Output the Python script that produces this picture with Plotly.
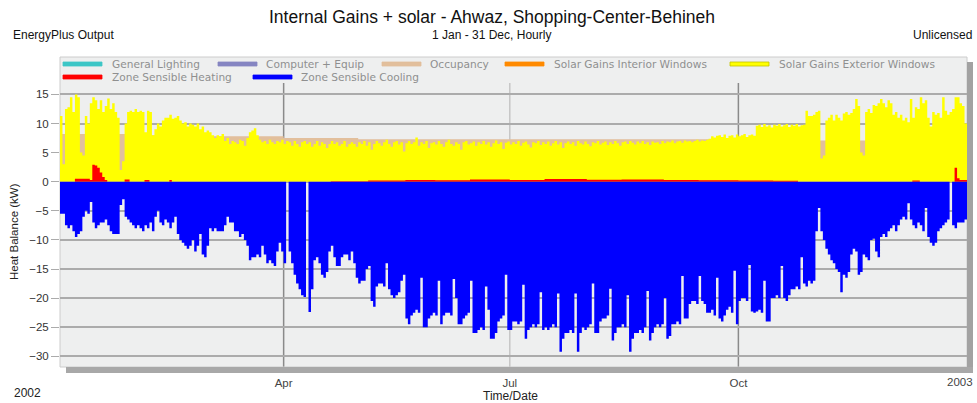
import plotly.graph_objects as go
import pandas as pd

# ---------------- data ----------------
# daily minimum of Zone Sensible Cooling (kW), 1 Jan .. 31 Dec 2002
cooling_daily_min = [
    -5.5, -5.5, -7.5, -8, -7.5, -8.5, -9.5, -9, -8.5, -6,
    -5, -5.5, -3.5, -7, -8, -7.5, -7, -7, -6.5, -7.5,
    -8.5, -9, -9, -9, -4, -3, -6, -6.5, -7, -7.5,
    -8, -7.5, -8, -8.5, -7.5, -8, -7, -8.5, -6, -5,
    -7, -7.5, -6.5, -7, -8, -7, -6, -9, -10, -10.5,
    -11, -11.5, -11, -10, -12, -11, -9, -12.5, -13, -11,
    -8, -8.5, -8, -8.5, -8.5, -8.5, -7.5, -6, -7, -7,
    -8.5, -8.5, -9.5, -9, -10, -11, -13.5, -13, -13, -12.5,
    -13, -11, -12.5, -14, -13.5, -14, -14.5, -12, -10.5, -12,
    -14, 0, -12, -14, -16, -17.5, -18.5, -19.5, -19.8, 0,
    -22.4, -18.5, -13.5, -13, -14, -16, -16.5, -15.5, -12, -11,
    -13, -14.5, -14.5, -13, -12.5, -12.5, -13.5, -12, -14, -16.5,
    -17.5, -17, -17, -15, -14.5, -20.5, -21.5, -18, -17.5, -17.5,
    -18, -14, -18.5, -19.5, -20, -19.5, -19, -17, -16, -23.5,
    -24.5, -23, -22.5, -22, -22.5, -16.5, -25, -25, -23.5, -23,
    -22.5, -23, -17, -24.5, -23, -22.5, -22.5, -23, -16.7, -20,
    -24.5, -24.5, -23.5, -23, -22.5, -17, -26, -26, -25.5, -25,
    -25.5, -18, -22, -27, -27, -26, -24, -23.5, -23, -16,
    -25.5, -25.5, -24, -24, -24.5, -24, -17.7, -27, -25.5, -25,
    -24.5, -25, -24.5, -19, -25.5, -25, -25.5, -25, -24.5, -25,
    -19.2, -29.2, -27, -26, -26, -25.5, -26, -19.2, -29.2, -26,
    -25, -25.5, -25, -24.5, -17.5, -26, -26, -24, -23.5, -23.5,
    -23, -18.4, -27.3, -26, -25, -25, -24.5, -25, -19.5, -29.2,
    -27, -26, -26, -25.5, -26, -25, -18.8, -27.3, -26, -25,
    -24.5, -25, -24.5, -20, -27, -26.5, -24.5, -24.5, -24, -24.5,
    -16.2, -23.5, -23.5, -21, -20.5, -20.5, -21, -16.2, -20.5, -21,
    -22.5, -22.5, -22, -23, -16.5, -23.5, -24, -23, -22, -21.5,
    -22.5, -15.3, -24.5, -20.5, -20, -20, -20.5, -14.3, -22.3, -22.5,
    -22.3, -22, -22.5, -17, -24, -24, -20, -20, -19.5, -20,
    -14.5, -20, -20.5, -19.5, -18.5, -18.5, -18, -18.5, -13, -17.5,
    -18, -17, -17.5, -17, -8.5, -4.5, -8.5, -10, -11.5, -12.5,
    -13.5, -14, -15, -15.5, -19, -16, -16.5, -15.5, -12.5, -11.5,
    -12, -16, -15.5, -12.5, -13, -13.5, -10, -9.8, -12, -13,
    -9.5, -9, -9.5, -8.5, -8, -7.5, -8.5, -7.5, -6.5, -6,
    -6.5, -3.7, -6.5, -7.5, -8, -7, -7.5, -8.5, -4.5, -9.5,
    -10.5, -11, -10.5, -8.5, -8, -7.5, -7, -6.5, 0, -7.5,
    -8, -7, -7, -7, -6.5,
]

# daily maximum of Solar Gains Exterior Windows (kW)
solar_ext_daily_max = [
    11.3, 3, 12.5, 12.8, 14.5, 12, 15, 14.5, 5, 4.5,
    11.3, 10, 13.5, 14.5, 14, 12.5, 14, 12, 13, 14.3,
    12.5, 13.5, 12, 11, 2, 3.5, 10, 12, 12.2, 12,
    12.5, 12, 12.2, 12, 8.5, 12.2, 12, 8, 9, 10,
    9.5, 10.5, 11, 11, 11.5, 10.8, 11, 11.3, 10.5, 10,
    10.2, 9.5, 10, 9.8, 9.5, 10, 9, 9.5, 8.5, 8.8,
    8.5, 8, 7.5, 8, 7.8, 8.2, 7, 7.5, 6.5, 7,
    6.8, 6.5, 7.2, 7, 6.2, 7.5, 8.5, 8.8, 9.2, 8,
    7.2, 6.8, 7, 6.5, 7.2, 6.8, 6.5, 7, 6.8, 7.2,
    6.5, 7, 6.8, 6.2, 7, 6.5, 6, 6.8, 7, 6.5,
    6.8, 6, 6.5, 7, 6.2, 6.8, 6.5, 5.8, 6.5, 7,
    6.5, 6.8, 6.2, 6.5, 7, 6, 6.5, 6.8, 6.5, 6,
    6.8, 6.5, 7, 6.2, 6.8, 5.5, 6.5, 7, 6.6, 6.2,
    6.8, 7.2, 6.5, 6, 6.8, 7, 6.4, 6.8, 5.2, 6.6,
    7, 6.5, 6.8, 7.6, 6.2, 6.8, 6.5, 7, 5.8, 6.6,
    6.8, 6.4, 7, 6.5, 6, 6.8, 7.2, 6.5, 6.2, 6.8,
    6.5, 5.5, 6.8, 7, 6.4, 6.6, 6.9, 6.2, 6.8, 6.5,
    7, 6.4, 6.8, 6, 6.6, 7.1, 6.5, 6.8, 5.6, 6.7,
    6.9, 6.4, 6.8, 6.5, 7, 6.2, 6.7, 6.9, 6.4, 5.9,
    6.8, 6.6, 7, 6.3, 6.8, 6.5, 6.9, 6.2, 6.6, 7,
    6.4, 6.8, 5.8, 6.6, 6.9, 6.5, 6.8, 6.2, 7, 6.6,
    6.4, 6.9, 6.5, 6.1, 6.8, 6.6, 7, 6.4, 6.7, 6.9,
    6.3, 6.8, 6.5, 7, 6.6, 6.2, 6.8, 6.9, 6.5, 7,
    6.7, 6.4, 6.9, 6.6, 7, 6.5, 6.8, 6.3, 6.9, 6.7,
    6.8, 6.5, 7, 6.6, 6.9, 6.8, 7.1, 6.6, 6.9, 7,
    6.7, 7.1, 6.9, 7.0, 6.8, 7.0, 7.2, 6.9, 7.1, 7.0,
    7.2, 7.4, 7.8, 7.6, 7.9, 8.0, 7.7, 8.1, 7.5, 7.9,
    8.0, 7.6, 8.1, 7.8, 8.0, 8.2, 7.7, 8.0, 8.1, 7.9,
    9.6, 9.8, 9.4, 9.9, 9.5, 9.7, 9.3, 9.8, 9.6, 9.9,
    9.5, 9.7, 9.9, 9.4, 9.8, 9.6, 9.9, 9.5, 9.7, 9.8,
    12.2, 11.3, 11.3, 11.5, 12, 12.2, 4.0, 4.5, 10.5, 11,
    11.5, 10.5, 11.5, 11, 10.5, 11.7, 12, 11.5, 11.8, 12.5,
    14.2, 13, 5, 4.5, 12, 12.5, 11.8, 13.2, 13, 13.5,
    14.2, 13.5, 12.8, 14, 13.5, 11.5, 12, 11, 11.5, 10.5,
    11, 10.2, 14.2, 11, 12.8, 12.5, 14.5, 13.5, 14, 11,
    9.5, 12, 11.5, 11.8, 11, 14.5, 12.2, 11.5, 12, 12.5,
    14.5, 14.5, 13.5, 13, 10,
]

# Occupancy: monthly peak (kW)
occupancy_month_starts = ["2002-01-01", "2002-02-01", "2002-03-01", "2002-04-01",
                          "2002-05-01", "2002-06-01", "2002-07-01", "2002-08-01",
                          "2002-09-01", "2002-10-01", "2002-11-01", "2002-12-01"]
occupancy_monthly_max = [8.2, 8.0, 7.8, 7.5, 7.3, 7.3, 7.3, 7.3, 7.3, 7.2, 7.1, 7.1]

# Zone Sensible Heating: value holds from each date to the next one (kW)
heating_change_dates = ["2002-01-01", "2002-01-07", "2002-01-13", "2002-01-14", "2002-01-15",
                        "2002-01-16", "2002-01-17", "2002-01-18", "2002-01-19", "2002-01-20",
                        "2002-01-27", "2002-01-29", "2002-02-04", "2002-02-06", "2002-02-14",
                        "2002-02-15", "2002-04-20", "2002-05-05", "2002-05-20", "2002-06-01",
                        "2002-06-15", "2002-07-01", "2002-07-15", "2002-08-01", "2002-08-15",
                        "2002-09-01", "2002-09-15", "2002-10-01", "2002-10-15", "2002-10-25",
                        "2002-12-10", "2002-12-13", "2002-12-27", "2002-12-28", "2002-12-29"]
heating_values = [0, 0.5, 0.3, 2.9, 2.8, 2.4, 1.6, 0.8, 0.3, 0,
                  0.4, 0, 0.3, 0, 0.3, 0, 0.1, 0.2, 0.3, 0.25,
                  0.4, 0.3, 0.45, 0.35, 0.4, 0.3, 0.25, 0.2, 0.15, 0,
                  0.2, 0, 2.4, 0.6, 0.3]

series_names = ["General Lighting", "Computer + Equip", "Occupancy",
                "Solar Gains Interior Windows", "Solar Gains Exterior Windows",
                "Zone Sensible Heating", "Zone Sensible Cooling"]
series_colors = ["#3cc6c6", "#8585c2", "#e2bf9c", "#ff8a00", "#ffff00", "#ff0000", "#0000ff"]

month_ticks = ["2002-04-01", "2002-07-01", "2002-10-01", "2003-01-01"]
month_labels = ["Apr", "Jul", "Oct", ""]
year_labels = ["2002", "2003"]
y_ticks = [-30, -25, -20, -15, -10, -5, 0, 5, 10, 15]

# ---------------- figure ----------------
YEAR_END = "2003-01-01"
day_edges = pd.date_range("2002-01-01", periods=len(cooling_daily_min) + 1, freq="D")

def step_area(x, y, color):
    return go.Scatter(x=list(x), y=list(y) + [y[-1]], mode="lines",
                      line=dict(width=0, shape="hv"), fill="tozeroy",
                      fillcolor=color, hoverinfo="skip", showlegend=False)

fig = go.Figure()
fig.add_trace(step_area(occupancy_month_starts + [YEAR_END], occupancy_monthly_max, series_colors[2]))
fig.add_trace(step_area(day_edges, solar_ext_daily_max, series_colors[4]))
fig.add_trace(step_area(heating_change_dates + [YEAR_END], heating_values, series_colors[5]))
fig.add_trace(step_area(day_edges, cooling_daily_min, series_colors[6]))

# geometry of the plot area in pixels
L, R, T, B = 60, 967, 57, 367
W, H = R - L, B - T
def px(xp):
    return (xp - L) / W
def py(yp):
    return (B - yp) / H

shapes = []
# vertical month lines
for d, c in zip(month_ticks[:3], ["#8a8a8a", "#c6c6c6", "#8a8a8a"]):
    shapes.append(dict(type="line", xref="x", yref="paper", x0=d, x1=d, y0=0, y1=py(83),
                       line=dict(color=c, width=1.5), layer="below"))
# frame and drop shadow
shapes.append(dict(type="rect", xref="paper", yref="paper", x0=0, x1=1, y0=0, y1=1,
                   line=dict(color="#cccccc", width=1), layer="below"))
shapes.append(dict(type="rect", xref="paper", yref="paper", x0=1, x1=px(973),
                   y0=py(373), y1=py(62), fillcolor="#a2a2a2", line=dict(width=0)))
shapes.append(dict(type="rect", xref="paper", yref="paper", x0=px(66), x1=px(973),
                   y0=py(373), y1=0, fillcolor="#a8a8a8", line=dict(width=0)))

# custom legend
legend_pos = [(63, 110, 64), (218, 264, 64), (382, 428, 64), (505, 552, 64), (730, 777, 64),
              (63, 110, 77), (253, 299, 77)]
annotations = []
for name, col, (sx, tx, ry) in zip(series_names, series_colors, legend_pos):
    edge = "#c2c200" if col == "#ffff00" else col
    shapes.append(dict(type="rect", xref="paper", yref="paper", x0=px(sx), x1=px(sx + 39),
                       y0=py(ry + 2), y1=py(ry - 2), fillcolor=col,
                       line=dict(color=edge, width=0.8)))
    annotations.append(dict(xref="paper", yref="paper", x=px(tx), y=py(ry), text=name,
                            showarrow=False, xanchor="left", yanchor="middle",
                            font=dict(size=10.6, color="#8f8f8f",
                                      family="DejaVu Sans, Verdana, sans-serif")))

txt = [
    ("Internal Gains + solar - Ahwaz, Shopping-Center-Behineh", 492, 17, "center", 17.5, "#111111", 0),
    ("EnergyPlus Output", 11, 35, "left", 12, "#111111", 0),
    ("1 Jan - 31 Dec, Hourly", 491, 35, "center", 12, "#111111", 0),
    ("Unlicensed", 974, 35, "right", 12, "#111111", 0),
    ("Heat Balance (kW)", 14, 232, "center", 11.5, "#222222", -90),
    ("Time/Date", 510, 396, "center", 12, "#222222", 0),
    (year_labels[0], 27, 393, "center", 12, "#222222", 0),
    (year_labels[1], 975, 382, "right", 11.5, "#444444", 0),
]
for t, x, y, anc, size, col, ang in txt:
    annotations.append(dict(xref="paper", yref="paper", x=px(x), y=py(y), text=t,
                            showarrow=False, xanchor=anc, yanchor="middle", textangle=ang,
                            font=dict(size=size, color=col)))

fig.update_layout(
    width=977, height=403,
    margin=dict(l=L, r=977 - R, t=T, b=403 - B),
    paper_bgcolor="white", plot_bgcolor="#eeefef",
    font=dict(family="Liberation Sans, Arial, sans-serif", size=11, color="#333333"),
    shapes=shapes, annotations=annotations, showlegend=False,
)
fig.update_xaxes(type="date", range=["2002-01-01", YEAR_END], tickvals=month_ticks,
                 ticktext=month_labels, showgrid=False, zeroline=False, showline=False,
                 ticks="outside", ticklen=5, tickcolor="#8a8a8a",
                 tickfont=dict(size=11.5, color="#444444"))
fig.update_yaxes(range=[-31.84, 21.43], tickvals=y_ticks, showgrid=True,
                 gridcolor="#ababab", gridwidth=1.5, zeroline=False, showline=False,
                 ticks="outside", ticklen=8, tickcolor="#ababab",
                 tickfont=dict(size=11.5, color="#333333"))

fig.write_html("out.html", config={"displayModeBar": False},
               post_script="document.body.style.margin='0';")
